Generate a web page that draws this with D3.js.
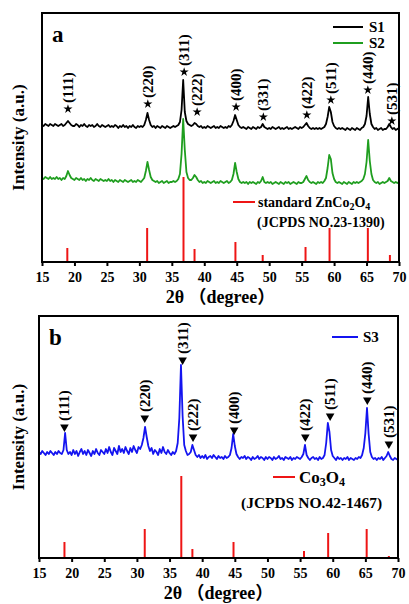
<!DOCTYPE html>
<html>
<head>
<meta charset="utf-8">
<script src="https://cdn.jsdelivr.net/npm/d3@7"></script>
<style>
body { margin: 0; background: #fff; }
svg text { font-family: "Liberation Serif", "Times New Roman", "Noto Sans CJK SC", serif; font-weight: bold; fill: #000; }
</style>
</head>
<body>
<svg id="chart" width="409" height="604"></svg>
<script>
// 2theta sampling step of the scans (15 -> 70 deg)
var thetaStart = 15, thetaStep = 0.25;
var xTicks = [15, 20, 25, 30, 35, 40, 45, 50, 55, 60, 65, 70];

// panel a, sample S1 (stacked intensity, arb. units)
var s1 = [
  137,136,138,137,136,138,137,136,138,137,136,137,138,136,137,139,141,139,137,136,
  136,138,137,135,137,136,138,136,135,137,136,137,135,136,138,136,135,137,136,135,
  136,137,135,136,135,137,136,134,136,135,137,135,136,134,136,135,137,135,134,136,
  135,136,135,137,142,149,142,137,135,136,134,136,135,134,136,135,134,136,135,134,
  135,136,135,136,137,140,152,182,150,141,138,137,136,137,139,138,136,135,136,134,
  135,134,136,135,134,135,136,134,135,134,136,135,134,135,134,136,135,137,141,147,
  142,137,135,134,135,134,133,135,134,133,135,134,133,135,134,135,138,135,134,133,
  134,133,135,134,133,134,135,133,134,133,134,135,133,134,133,134,135,134,133,135,
  134,135,137,139,136,134,133,134,133,134,133,134,133,134,135,138,145,155,150,140,
  136,134,133,134,133,134,133,132,134,133,132,134,133,132,134,133,132,134,135,138,
  146,165,148,138,135,133,134,132,133,134,132,133,133,135,138,135,133,134,132,133,134
];
// panel a, sample S2
var s2 = [
  84,83,85,84,83,85,83,84,83,85,83,84,82,84,83,86,91,87,84,83,
  82,84,83,82,84,82,83,81,83,82,84,82,81,83,82,81,83,82,81,82,
  81,83,81,82,80,82,81,80,82,81,80,82,81,80,81,82,80,81,80,82,
  81,80,82,84,91,100,92,85,82,81,80,81,79,80,81,79,80,81,79,80,
  80,81,80,81,83,88,108,143,112,90,84,82,82,84,87,85,82,80,81,79,
  80,79,81,80,79,80,81,79,80,79,81,80,79,80,81,79,80,82,88,99,
  90,83,80,79,80,79,80,78,80,79,80,79,78,80,79,81,85,80,79,80,
  79,80,78,79,80,79,78,80,79,78,80,79,80,78,79,80,79,78,80,79,
  79,80,83,86,82,80,79,80,79,78,80,79,80,79,81,84,94,107,103,89,
  83,80,79,80,79,78,80,79,78,80,79,78,80,79,80,79,80,81,83,88,
  100,122,101,88,82,80,79,80,78,79,80,79,80,81,84,81,80,79,80,79,80
];
// panel b, sample S3
var s3 = [
  106,104,107,105,103,106,104,107,105,103,106,104,107,105,104,108,125,108,104,106,
  103,108,104,107,102,106,109,104,107,103,108,105,102,107,104,109,105,103,108,106,
  104,109,105,111,106,103,110,107,104,112,106,109,105,111,107,104,110,106,112,108,
  105,111,109,113,120,131,121,112,107,110,104,108,106,103,109,105,111,106,104,108,
  105,103,106,104,107,115,140,193,142,113,107,103,104,106,113,108,103,101,103,100,
  102,100,103,99,101,102,100,103,101,99,102,100,101,99,102,100,101,103,110,124,
  112,104,101,99,101,100,102,99,101,100,98,101,99,100,102,99,101,100,98,101,
  99,101,100,98,101,99,100,102,99,100,98,101,100,99,101,98,100,99,101,100,
  99,101,104,113,103,100,98,100,101,99,100,98,101,99,100,103,115,135,126,108,
  102,100,98,101,99,100,98,100,99,101,98,100,99,98,100,99,101,100,103,110,
  125,150,124,106,101,99,100,98,100,99,101,98,100,102,106,102,99,98,100,99,98
];

// standard patterns (stick positions and heights)
var znCoTheta = [18.9, 31.2, 36.8, 38.5, 44.8, 49.0, 55.6, 59.3, 65.2, 68.6];
var znCoI = [14, 34, 85, 13, 20, 7, 15, 34, 34, 7];
var coTheta = [18.9, 31.2, 36.8, 38.5, 44.8, 55.6, 59.3, 65.2, 68.6];
var coI = [16, 29, 82, 9, 16, 7, 25, 29, 2];

// hkl annotations
var hklA = ['(111)', '(220)', '(311)', '(222)', '(400)', '(331)', '(422)', '(511)', '(440)', '(531)'];
var hklThetaA = [19.0, 31.3, 36.9, 38.9, 44.9, 49.1, 55.8, 59.5, 65.2, 68.9];
var hklLevelA = [153, 158, 190, 150, 155, 145, 147, 162, 172, 141];
var hklB = ['(111)', '(220)', '(311)', '(222)', '(400)', '(422)', '(511)', '(440)', '(531)'];
var hklThetaB = [18.9, 31.2, 37.0, 38.6, 44.9, 55.8, 59.6, 65.3, 68.6];
var hklLevelB = [131, 140, 198, 121, 128, 121, 142, 158, 114];

var RED = '#ee1515', GREEN = '#1f9e1f', BLUE = '#1414f0';

var svg = d3.select('#chart');
svg.append('rect').attr('width', 409).attr('height', 604).attr('fill', '#fff');

function toPoints(arr) {
    return arr.map(function (v, i) { return [thetaStart + i * thetaStep, v]; });
}

function drawPanel(p) {
    var x = d3.scaleLinear().domain([15, 70]).range([p.l, p.r]);
    var y = d3.scaleLinear().domain([0, p.ymax]).range([p.b, p.t]);
    var g = svg.append('g');

    // x axis
    var ax = g.append('g')
        .attr('transform', `translate(0, ${p.b})`)
        .call(d3.axisBottom(x).tickValues(xTicks).tickSize(4).tickPadding(6));
    ax.select('.domain').remove();
    ax.selectAll('line').attr('stroke', '#000').attr('stroke-width', 2);
    ax.selectAll('text').style('font-size', '14px').attr('fill', '#000');

    // standard sticks
    g.selectAll('.stick').data(p.stickTheta).enter()
        .append('line')
        .attr('x1', d => x(d)).attr('x2', d => x(d))
        .attr('y1', y(0)).attr('y2', (d, i) => y(p.stickI[i]))
        .attr('stroke', RED).attr('stroke-width', 2);

    // scans
    var line = d3.line().x(d => x(d[0])).y(d => y(d[1]));
    p.series.forEach(function (s) {
        g.append('path')
            .attr('d', line(toPoints(s.values)))
            .attr('fill', 'none')
            .attr('stroke', s.color)
            .attr('stroke-width', 1.8)
            .attr('stroke-linejoin', 'round');
    });

    // markers + hkl labels
    var sym = d3.symbol().type(p.marker === 'star' ? d3.symbolStar : d3.symbolTriangle)
        .size(p.marker === 'star' ? 26 : 32);
    p.hkl.forEach(function (h, i) {
        var mx = x(p.hklTheta[i]), my = y(p.hklLevel[i]);
        g.append('path')
            .attr('d', sym())
            .attr('transform', `translate(${mx},${my})` + (p.marker === 'star' ? '' : ' rotate(180)'))
            .attr('fill', '#000');
        g.append('text')
            .attr('transform', `translate(${mx + 5},${my - 6}) rotate(-90)`)
            .style('font-size', '15px')
            .text(h);
    });

    // frame
    g.append('rect')
        .attr('x', p.l).attr('y', p.t)
        .attr('width', p.r - p.l).attr('height', p.b - p.t)
        .attr('fill', 'none').attr('stroke', '#000').attr('stroke-width', 2);

    // titles
    g.append('text')
        .attr('x', (p.l + p.r) / 2).attr('y', p.b + 41)
        .attr('text-anchor', 'middle')
        .style('font-size', '18px')
        .text('2θ （degree）');
    g.append('text')
        .attr('transform', `translate(24, ${(p.t + p.b) / 2}) rotate(-90)`)
        .attr('text-anchor', 'middle')
        .style('font-size', '17px')
        .text('Intensity (a.u.)');
    g.append('text')
        .attr('x', p.l + 10).attr('y', p.t + 29)
        .style('font-size', '23px')
        .text(p.letter);

    return g;
}

// panel a
var gA = drawPanel({
    l: 42, r: 399, t: 13, b: 262, ymax: 249, letter: 'a',
    series: [{ values: s1, color: '#000' }, { values: s2, color: GREEN }],
    stickTheta: znCoTheta, stickI: znCoI,
    marker: 'star', hkl: hklA, hklTheta: hklThetaA, hklLevel: hklLevelA
});
[{ name: 'S1', color: '#000', y: 27 }, { name: 'S2', color: GREEN, y: 43 }].forEach(function (d) {
    gA.append('line').attr('x1', 333).attr('x2', 363).attr('y1', d.y).attr('y2', d.y)
        .attr('stroke', d.color).attr('stroke-width', 2);
    gA.append('text').attr('x', 369).attr('y', d.y).attr('dy', '0.35em')
        .style('font-size', '15px').text(d.name);
});
gA.append('line').attr('x1', 233).attr('x2', 255).attr('y1', 202).attr('y2', 202)
    .attr('stroke', RED).attr('stroke-width', 2);
var tA = gA.append('text').attr('x', 258).attr('y', 202).attr('dy', '0.35em').style('font-size', '14px');
tA.append('tspan').text('standard ZnCo');
tA.append('tspan').attr('dy', 3).style('font-size', '10px').text('2');
tA.append('tspan').attr('dy', -3).text('O');
tA.append('tspan').attr('dy', 3).style('font-size', '10px').text('4');
gA.append('text').attr('x', 257).attr('y', 222).attr('dy', '0.35em')
    .style('font-size', '14px').text('(JCPDS NO.23-1390)');

// panel b
var gB = drawPanel({
    l: 39, r: 398, t: 316, b: 558, ymax: 242, letter: 'b',
    series: [{ values: s3, color: BLUE }],
    stickTheta: coTheta, stickI: coI,
    marker: 'tri', hkl: hklB, hklTheta: hklThetaB, hklLevel: hklLevelB
});
gB.append('line').attr('x1', 332).attr('x2', 358).attr('y1', 337).attr('y2', 337)
    .attr('stroke', BLUE).attr('stroke-width', 2);
gB.append('text').attr('x', 363).attr('y', 337).attr('dy', '0.35em')
    .style('font-size', '15px').text('S3');
gB.append('line').attr('x1', 273).attr('x2', 295).attr('y1', 477).attr('y2', 477)
    .attr('stroke', RED).attr('stroke-width', 2);
var tB = gB.append('text').attr('x', 299).attr('y', 477).attr('dy', '0.35em').style('font-size', '17px');
tB.append('tspan').text('Co');
tB.append('tspan').attr('dy', 3).style('font-size', '12px').text('3');
tB.append('tspan').attr('dy', -3).text('O');
tB.append('tspan').attr('dy', 3).style('font-size', '12px').text('4');
gB.append('text').attr('x', 241).attr('y', 503).attr('dy', '0.35em')
    .style('font-size', '15.5px').text('(JCPDS NO.42-1467)');
</script>
</body>
</html>
